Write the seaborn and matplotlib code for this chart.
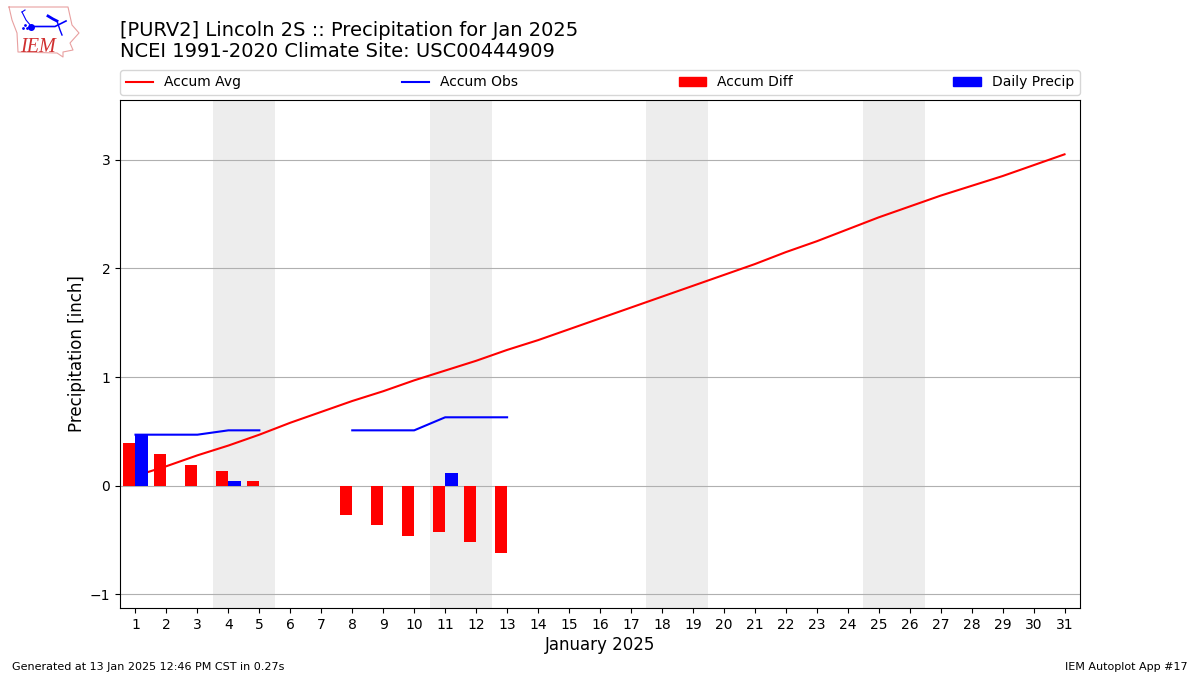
import pandas as pd
import seaborn as sns
import matplotlib.pyplot as plt
from matplotlib.patches import Patch

# Values
days = list(range(1, 32))
accum_avg = [0.09, 0.18, 0.28, 0.37, 0.47, 0.58, 0.68, 0.78, 0.87, 0.97,
             1.06, 1.15, 1.25, 1.34, 1.44, 1.54, 1.64, 1.74, 1.84, 1.94,
             2.04, 2.15, 2.25, 2.36, 2.47, 2.57, 2.67, 2.76, 2.85, 2.95, 3.05]
obs_days_a = [1, 2, 3, 4, 5]
obs_vals_a = [0.47, 0.47, 0.47, 0.51, 0.51]
obs_days_b = [8, 9, 10, 11, 12, 13]
obs_vals_b = [0.51, 0.51, 0.51, 0.63, 0.63, 0.63]
diff_days = [1, 2, 3, 4, 5, 8, 9, 10, 11, 12, 13]
accum_diff = [0.39, 0.29, 0.19, 0.135, 0.045, -0.265, -0.36, -0.46, -0.43, -0.515, -0.615]
precip_days = [1, 4, 11]
daily_precip = [0.47, 0.04, 0.12]
weekends = [(3.5, 5.5), (10.5, 12.5), (17.5, 19.5), (24.5, 26.5)]

bars = pd.concat([
    pd.DataFrame({"day": days, "kind": "Accum Diff",
                  "value": pd.Series(accum_diff, index=diff_days).reindex(days).values}),
    pd.DataFrame({"day": days, "kind": "Daily Precip",
                  "value": pd.Series(daily_precip, index=precip_days).reindex(days).values}),
], ignore_index=True)

fig = plt.figure(figsize=(12, 6.75), dpi=100)
ax = fig.add_axes([120 / 1200, 1 - 608 / 675, 960 / 1200, 508 / 675])

for start, end in weekends:
    ax.axvspan(start, end, color="#ededed", lw=0, zorder=0)

sns.lineplot(x=days, y=accum_avg, color="red", estimator=None, ax=ax, zorder=2)
sns.lineplot(x=obs_days_a, y=obs_vals_a, color="blue", estimator=None, ax=ax, zorder=2)
sns.lineplot(x=obs_days_b, y=obs_vals_b, color="blue", estimator=None, ax=ax, zorder=2)
sns.barplot(data=bars, x="day", y="value", hue="kind", native_scale=True,
            palette={"Accum Diff": "red", "Daily Precip": "blue"},
            width=0.8, gap=0, saturation=1, errorbar=None, legend=False,
            ax=ax, zorder=3)

ax.set_xlim(0.5, 31.5)
ax.set_ylim(-1.125, 3.55)
ax.set_xticks(days)
ax.set_xticklabels([str(d) for d in days])
ax.set_yticks([-1, 0, 1, 2, 3])
ax.set_yticklabels(["\u22121", "0", "1", "2", "3"])
ax.grid(True, axis="y", color="#b0b0b0", lw=0.8)
ax.set_xlabel("January 2025", fontsize=12, labelpad=3)
ax.set_ylabel("Precipitation [inch]", fontsize=12, labelpad=3)

handles = [plt.Line2D([], [], color="red"), plt.Line2D([], [], color="blue"),
           Patch(color="red"), Patch(color="blue")]
ax.legend(handles, ["Accum Avg", "Accum Obs", "Accum Diff", "Daily Precip"],
          loc="lower left", bbox_to_anchor=(0, 1.0098, 1, 0.05), mode="expand",
          ncol=4, borderaxespad=0, fontsize=10)

fig.text(120 / 1200, 1 - 61 / 675, "[PURV2] Lincoln 2S :: Precipitation for Jan 2025\n"
         "NCEI 1991-2020 Climate Site: USC00444909", fontsize=14, va="bottom", ha="left",
         linespacing=1.12)
fig.text(12 / 1200, 1 - 670 / 675, "Generated at 13 Jan 2025 12:46 PM CST in 0.27s", fontsize=8)
fig.text(1188 / 1200, 1 - 670 / 675, "IEM Autoplot App #17", fontsize=8, ha="right")

# Rough redraw of the logo, in pixel coordinates
logo = fig.add_axes([0, 0, 1, 1], facecolor="none")
logo.set_xlim(0, 1200)
logo.set_ylim(675, 0)
logo.axis("off")
outline_x = [9, 68, 72, 79, 70, 73, 63, 63, 57, 18, 17, 12, 9]
outline_y = [7, 7, 25, 33, 43, 50, 52, 57, 53, 52, 33, 20, 7]
logo.plot(outline_x, outline_y, color="#e8a0a0", lw=0.8)
logo.plot([31, 55, 66], [26.5, 26.5, 21], color="blue", lw=1.2)
logo.plot([31, 26, 22], [26, 20, 12], color="blue", lw=0.8)
logo.plot([22, 25], [12, 10], color="blue", lw=0.8)
logo.plot([48, 53, 57], [16, 19, 21], color="blue", lw=2)
logo.plot([57, 60, 62], [21, 30, 35], color="blue", lw=1)
logo.plot([31], [26.5], "o", color="blue", ms=4)
logo.plot([23, 25, 27], [28, 25, 28], ".", color="blue", ms=2)
logo.text(20, 52.5, "IEM", color="#d03030", fontsize=14.5, style="italic",
          family="Liberation Serif", va="baseline")

fig.savefig("out.png", dpi=100)
